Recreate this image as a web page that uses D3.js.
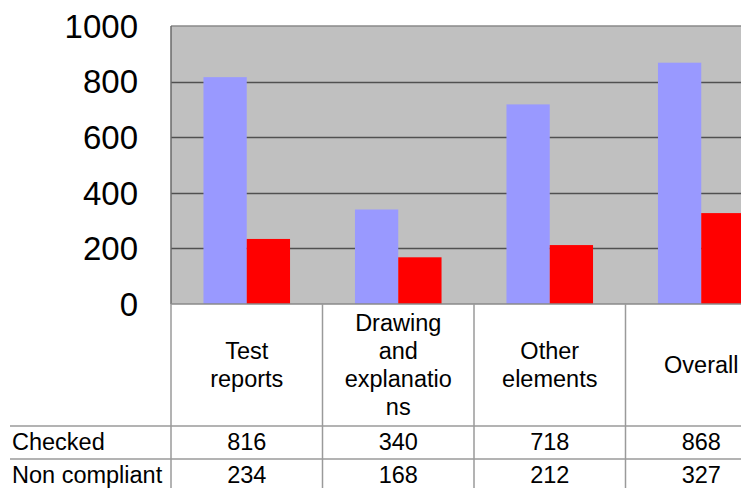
<!DOCTYPE html>
<html>
<head>
<meta charset="utf-8">
<script src="https://cdn.jsdelivr.net/npm/d3@7"></script>
<style>
  html, body { margin: 0; padding: 0; background: #fff; }
  svg { display: block; font-family: "Liberation Sans", Arial, sans-serif; }
</style>
</head>
<body>
<svg id="chart" width="741" height="488"></svg>
<script>
// Categories and series
const categories = ["Test reports", "Drawing and explanations", "Other elements", "Overall"];
const seriesNames = ["Checked", "Non compliant"];
const checked = [816, 340, 718, 868];
const nonCompliant = [234, 168, 212, 327];
const yTicks = [0, 200, 400, 600, 800, 1000];
const seriesColors = ["#9999FF", "#FF0000"];

const seriesValues = [checked, nonCompliant];

const svg = d3.select("#chart");
const W = 741, H = 488;

// Plot area (extends past the right edge of the canvas)
const plot = { left: 171, top: 26, bottom: 304, right: 777 };
const tableLeft = 10;
const headerBottom = 426;
const rowBottoms = [459, 492];

const y = d3.scaleLinear().domain([0, 1000]).range([plot.bottom, plot.top]);
const x0 = d3.scaleBand().domain(categories).range([plot.left, plot.right]).padding(0);
const x1 = d3.scaleBand().domain(seriesNames).range([0, x0.bandwidth()])
  .paddingInner(0).paddingOuter(0.75);

// Plot background
svg.append("rect")
  .attr("x", plot.left).attr("y", plot.top)
  .attr("width", plot.right - plot.left).attr("height", plot.bottom - plot.top)
  .attr("fill", "#C0C0C0");

// Gridlines
const gridG = svg.append("g").attr("class", "grid");
yTicks.filter(d => d > 0 && d < 1000).forEach(d => {
  gridG.append("line")
    .attr("x1", plot.left).attr("x2", plot.right)
    .attr("y1", Math.round(y(d)) + 0.5).attr("y2", Math.round(y(d)) + 0.5)
    .attr("stroke", "#505050").attr("stroke-width", 1.5);
});

// Top border
svg.append("line")
  .attr("x1", plot.left).attr("x2", plot.right)
  .attr("y1", y(1000)).attr("y2", y(1000))
  .attr("stroke", "#8a8a8a").attr("stroke-width", 1.5);

// Bars
const groups = svg.append("g")
  .selectAll("g")
  .data(categories)
  .join("g")
  .attr("transform", d => `translate(${x0(d)},0)`);

groups.selectAll("rect")
  .data((c, i) => seriesNames.map((s, j) => ({ s, j, v: seriesValues[j][i] })))
  .join("rect")
  .attr("x", d => x1(d.s))
  .attr("width", x1.bandwidth())
  .attr("y", d => y(d.v))
  .attr("height", d => y(0) - y(d.v))
  .attr("fill", d => seriesColors[d.j]);

// Y axis line and bottom line
svg.append("line")
  .attr("x1", plot.left).attr("x2", plot.left)
  .attr("y1", plot.top).attr("y2", plot.bottom)
  .attr("stroke", "#6a6a6a").attr("stroke-width", 1.5);
svg.append("line")
  .attr("x1", plot.left).attr("x2", plot.right)
  .attr("y1", plot.bottom).attr("y2", plot.bottom)
  .attr("stroke", "#8a8a8a").attr("stroke-width", 1.5);

// Y tick labels
const yAxis = d3.axisLeft(y).tickValues(yTicks).tickFormat(d3.format("d"))
  .tickSize(0).tickPadding(0);
const yg = svg.append("g").attr("transform", "translate(138,0)").call(yAxis);
yg.select(".domain").remove();
yg.selectAll("text")
  .attr("font-size", 33)
  .attr("font-family", "'Liberation Sans', Arial, sans-serif")
  .attr("fill", "#000")
  .attr("dy", "0.34em");

// Data table grid
const tableColor = "#9a9a9a";
const grid = svg.append("g").attr("stroke", tableColor).attr("stroke-width", 1.5);
categories.forEach(c => {
  grid.append("line")
    .attr("x1", x0(c)).attr("x2", x0(c))
    .attr("y1", plot.bottom).attr("y2", H);
});
[headerBottom, rowBottoms[0]].forEach(yy => {
  grid.append("line")
    .attr("x1", tableLeft).attr("x2", W)
    .attr("y1", yy).attr("y2", yy);
});

// Category header labels, wrapped to the column width
const fontSize = 23.5;
const lineH = 28;
const maxW = 114;
const headerMid = (plot.bottom + headerBottom) / 2;

function wrapLabel(text, measure) {
  const words = text.split(" ");
  const lines = [];
  let cur = "";
  words.forEach(w => {
    const trial = cur ? cur + " " + w : w;
    if (measure(trial) <= maxW) { cur = trial; return; }
    if (cur) lines.push(cur);
    cur = "";
    // break long words by characters
    let piece = "";
    for (const ch of w) {
      if (measure(piece + ch) <= maxW) piece += ch;
      else { lines.push(piece); piece = ch; }
    }
    cur = piece;
  });
  if (cur) lines.push(cur);
  return lines;
}

const probe = svg.append("text").attr("font-size", fontSize).attr("visibility", "hidden");
const measure = s => { probe.text(s); return probe.node().getComputedTextLength(); };

categories.forEach(c => {
  const lines = wrapLabel(c, measure);
  const cx = x0(c) + x0.bandwidth() / 2;
  const firstBase = headerMid - (lines.length - 1) * lineH / 2 + fontSize * 0.36;
  const t = svg.append("text")
    .attr("font-size", fontSize).attr("fill", "#000")
    .attr("text-anchor", "middle");
  lines.forEach((ln, i) => {
    t.append("tspan").attr("x", cx).attr("y", firstBase + i * lineH).text(ln);
  });
});
probe.remove();

// Table rows: series names and values
const rowBase = [450, 483];
seriesNames.forEach((s, j) => {
  svg.append("text")
    .attr("x", 12).attr("y", rowBase[j])
    .attr("font-size", fontSize).attr("fill", "#000")
    .text(s);
  categories.forEach((c, i) => {
    svg.append("text")
      .attr("x", x0(c) + x0.bandwidth() / 2).attr("y", rowBase[j])
      .attr("text-anchor", "middle")
      .attr("font-size", fontSize).attr("fill", "#000")
      .text(seriesValues[j][i]);
  });
});
</script>
</body>
</html>
